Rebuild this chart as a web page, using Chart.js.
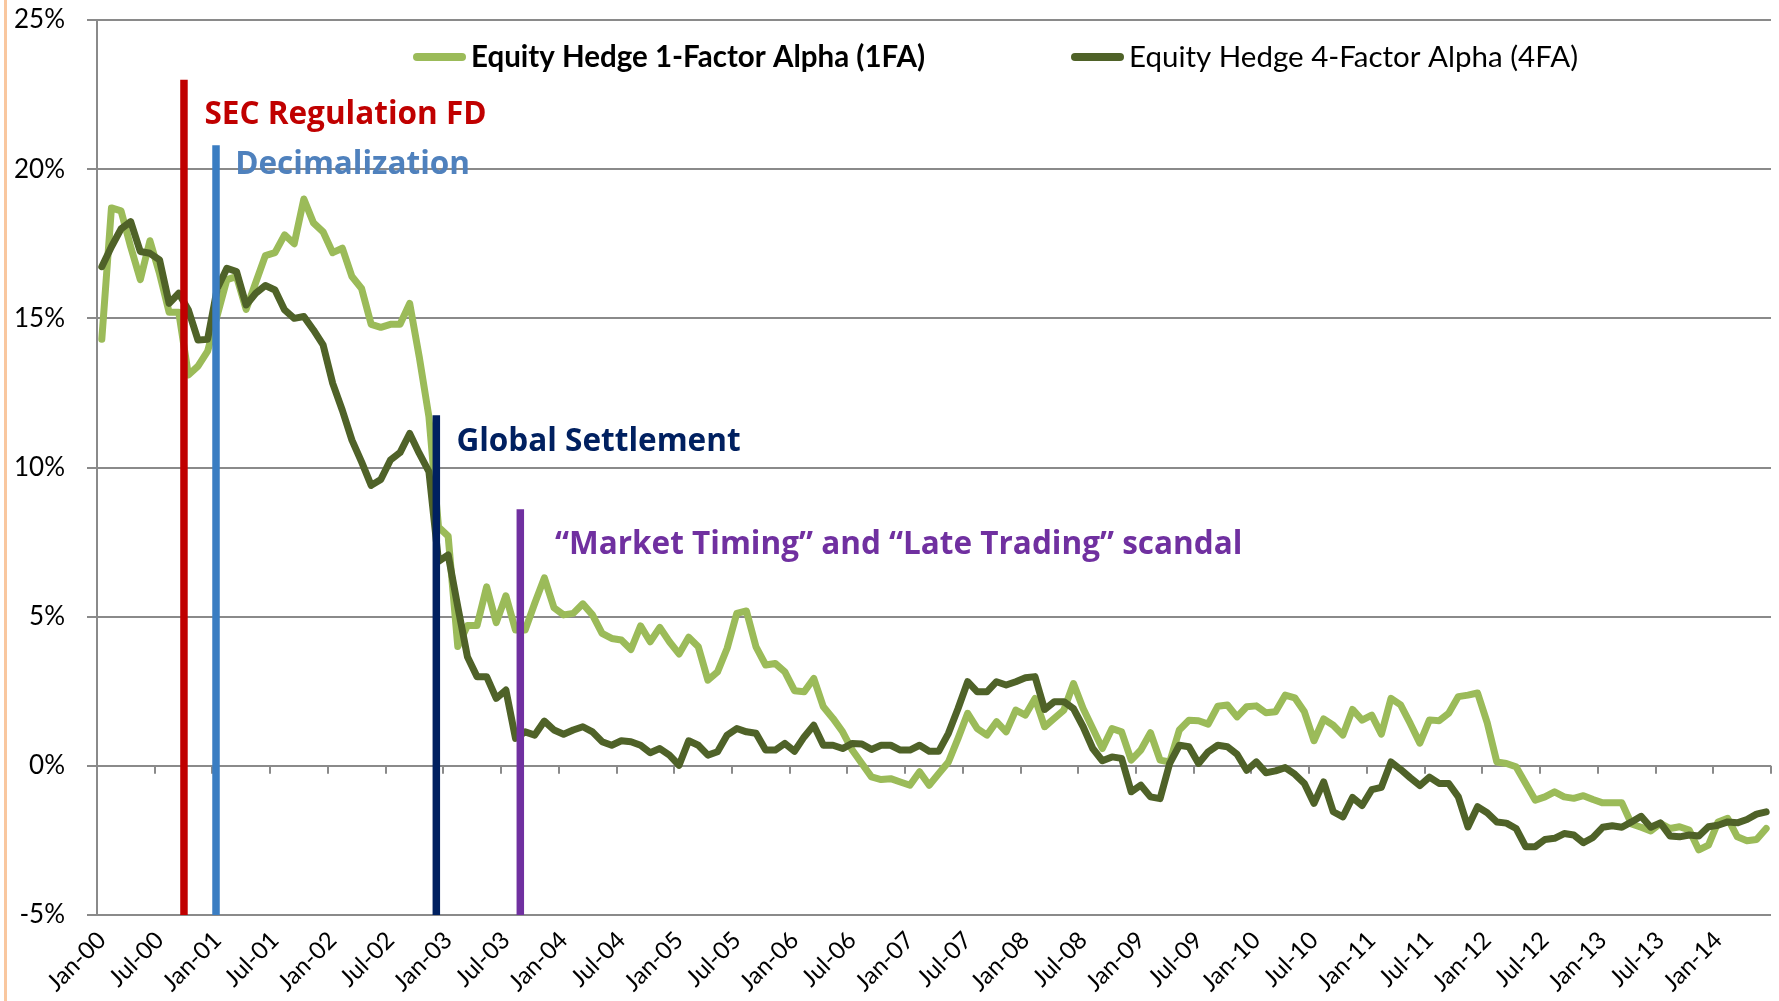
<!DOCTYPE html>
<html>
<head>
<meta charset="utf-8">
<script src="https://cdn.jsdelivr.net/npm/chart.js@4.4.1/dist/chart.umd.min.js"></script>
<style>
  html, body { margin: 0; padding: 0; background: #fff; }
  #wrap { position: relative; width: 1779px; height: 1001px; }
  #edge { position: absolute; left: 4px; top: 0; width: 3px; height: 1001px; background: #f9c79f; }
  canvas { position: absolute; left: 0; top: 0; }
</style>
</head>
<body>
<div id="wrap"><canvas id="chart" width="1779" height="1001"></canvas><div id="edge"></div></div>
<script>
// Monthly categories Jan-00 .. Jun-14
const monthNames = ['Jan','Feb','Mar','Apr','May','Jun','Jul','Aug','Sep','Oct','Nov','Dec'];
const months = [];
for (let yr = 0; yr <= 14; yr++) {
  for (let m = 0; m < 12; m++) {
    if (months.length < 174) months.push(monthNames[m] + '-' + String(yr).padStart(2, '0'));
  }
}

// Equity Hedge 1-Factor Alpha (%)
const alpha1FA = [
  14.3, 18.7, 18.6, 17.4, 16.3, 17.6, 16.5, 15.2, 15.2, 13.1, 13.4, 13.9,
  15.1, 16.3, 16.4, 15.3, 16.2, 17.1, 17.2, 17.8, 17.5, 19.0, 18.2, 17.9,
  17.2, 17.35, 16.4, 16.0, 14.8, 14.7, 14.8, 14.8, 15.5, 13.7, 11.7, 8.0,
  7.7, 4.0, 4.7, 4.7, 6.0, 4.8, 5.7, 4.55, 4.55, 5.45, 6.3, 5.3,
  5.06, 5.11, 5.43, 5.06, 4.44, 4.27, 4.22, 3.9, 4.69, 4.16, 4.64, 4.16,
  3.75, 4.31, 3.99, 2.87, 3.15, 3.94, 5.11, 5.19, 3.99, 3.38, 3.43, 3.15,
  2.52, 2.48, 2.93, 1.98, 1.59, 1.14, 0.53, 0.08, -0.37, -0.46, -0.43, -0.54,
  -0.65, -0.2, -0.65, -0.26, 0.13, 0.92, 1.76, 1.25, 1.03, 1.48, 1.14, 1.87,
  1.7, 2.26, 1.31, 1.59, 1.87, 2.76, 1.92, 1.25, 0.58, 1.25, 1.14, 0.19,
  0.53, 1.11, 0.19, 0.13, 1.2, 1.53, 1.51, 1.4, 2.0, 2.04, 1.64, 1.98,
  2.01, 1.78, 1.81, 2.37, 2.28, 1.81, 0.84, 1.57, 1.36, 1.03, 1.89, 1.53,
  1.7, 1.06, 2.26, 2.04, 1.42, 0.76, 1.54, 1.51, 1.76, 2.32, 2.37, 2.44,
  1.45, 0.13, 0.08, -0.03, -0.59, -1.15, -1.04, -0.87, -1.04, -1.09, -1.0, -1.13,
  -1.24, -1.24, -1.24, -1.95, -2.06, -2.18, -1.93, -2.1, -2.04, -2.15, -2.82, -2.66,
  -1.88, -1.76, -2.38, -2.51, -2.47, -2.1
];

// Equity Hedge 4-Factor Alpha (%)
const alpha4FA = [
  16.73, 17.4, 18.0, 18.24, 17.24, 17.18, 16.96, 15.5, 15.84, 15.28, 14.27, 14.3,
  16.0, 16.68, 16.57, 15.45, 15.84, 16.1, 15.95, 15.28, 15.0, 15.06, 14.61, 14.11,
  12.82, 11.92, 10.92, 10.19, 9.4, 9.6, 10.25, 10.5, 11.14, 10.47, 9.86, 6.85,
  7.07, 5.34, 3.66, 2.99, 2.99, 2.26, 2.54, 0.92, 1.14, 1.03, 1.5, 1.2,
  1.06, 1.2, 1.31, 1.14, 0.81, 0.69, 0.84, 0.81, 0.69, 0.44, 0.58, 0.36,
  0.02, 0.84, 0.69, 0.36, 0.47, 1.03, 1.25, 1.14, 1.09, 0.53, 0.53, 0.75,
  0.49, 0.97, 1.36, 0.69, 0.69, 0.58, 0.75, 0.73, 0.55, 0.69, 0.69, 0.53,
  0.53, 0.69, 0.49, 0.49, 1.09, 1.92, 2.82, 2.48, 2.48, 2.82, 2.71, 2.82,
  2.95, 2.99, 1.89, 2.15, 2.15, 1.92, 1.31, 0.58, 0.17, 0.3, 0.25, -0.87,
  -0.65, -1.04, -1.1, 0.08, 0.69, 0.64, 0.08, 0.47, 0.69, 0.64, 0.39, -0.15,
  0.13, -0.23, -0.17, -0.06, -0.28, -0.59, -1.26, -0.54, -1.54, -1.71, -1.06, -1.33,
  -0.8, -0.72, 0.13, -0.12, -0.4, -0.66, -0.38, -0.59, -0.59, -1.04, -2.05, -1.37,
  -1.57, -1.88, -1.92, -2.1, -2.71, -2.71, -2.47, -2.43, -2.27, -2.32, -2.58, -2.4,
  -2.06, -2.01, -2.06, -1.88, -1.69, -2.06, -1.91, -2.35, -2.38, -2.32, -2.35, -2.04,
  -1.99, -1.88, -1.91, -1.8, -1.62, -1.54
];

// Y ticks
const yTicks = [-5, 0, 5, 10, 15, 20, 25];

// Events (month index may be fractional, top in %)
const eventNames = ['SEC Regulation FD', 'Decimalization', 'Global Settlement', '\u201cMarket Timing\u201d and \u201cLate Trading\u201d scandal'];
const eventMonth = [8.54, 11.87, 34.77, 43.5];
const eventTop = [23, 20.8, 11.75, 8.6];

// styling
const eventLineColors = ['#C00000', '#3A7DC2', '#002060', '#7030A0'];
const eventTextColors = ['#C00000', '#4F81BD', '#002060', '#7030A0'];
// label anchor (left, middle) in axis units
const eventLabelX = [10.67, 13.86, 36.86, 47.11];
const eventLabelY = [21.8, 20.13, 10.86, 7.4];

const GRID = '#8a8a8a';
const C1 = '#9BBB59';
const C4 = '#4F6228';

// x tick marks at the 0% line, every 6 months on category boundaries
const xTickMarks = {
  id: 'xTickMarks',
  beforeDatasetsDraw(chart) {
    const { ctx, scales: { x, y } } = chart;
    const y0 = y.getPixelForValue(0);
    ctx.save();
    ctx.strokeStyle = GRID;
    ctx.lineWidth = 2;
    ctx.beginPath();
    for (let k = 6; k <= months.length; k += 6) {
      const px = Math.round(x.getPixelForValue(k - 0.5));
      ctx.moveTo(px, y0);
      ctx.lineTo(px, y0 + 8);
    }
    ctx.stroke();
    ctx.restore();
  }
};

// vertical event markers + labels
const eventLines = {
  id: 'eventLines',
  afterDatasetsDraw(chart) {
    const { ctx, scales: { x, y } } = chart;
    ctx.save();
    eventNames.forEach((name, k) => {
      const px = x.getPixelForValue(eventMonth[k]);
      ctx.strokeStyle = eventLineColors[k];
      ctx.lineWidth = 7.5;
      ctx.beginPath();
      ctx.moveTo(px, y.getPixelForValue(eventTop[k]));
      ctx.lineTo(px, y.getPixelForValue(-5));
      ctx.stroke();

      ctx.font = 'bold 31.5px "Open Sans"';
      ctx.fillStyle = eventTextColors[k];
      ctx.textAlign = 'left';
      ctx.textBaseline = 'middle';
      ctx.fillText(name, x.getPixelForValue(eventLabelX[k]), y.getPixelForValue(eventLabelY[k]));
    });
    ctx.restore();
  }
};

// legend inside the plot, first entry bold
const topLegend = {
  id: 'topLegend',
  afterDraw(chart) {
    const { ctx } = chart;
    const items = [
      { ds: chart.data.datasets[0], x: 413, font: 'bold 29.5px Lato' },
      { ds: chart.data.datasets[1], x: 1071, font: '29.5px Lato' }
    ];
    const yMid = 57;
    ctx.save();
    items.forEach(it => {
      ctx.strokeStyle = it.ds.borderColor;
      ctx.lineWidth = 8;
      ctx.lineCap = 'round';
      ctx.beginPath();
      ctx.moveTo(it.x + 4, yMid);
      ctx.lineTo(it.x + 49, yMid);
      ctx.stroke();
      ctx.font = it.font;
      ctx.fillStyle = '#000';
      ctx.textBaseline = 'middle';
      ctx.textAlign = 'left';
      ctx.fillText(it.ds.label, it.x + 58, yMid);
    });
    ctx.restore();
  }
};

new Chart(document.getElementById('chart').getContext('2d'), {
  type: 'line',
  data: {
    labels: months,
    datasets: [
      {
        label: 'Equity Hedge 1-Factor Alpha (1FA)',
        data: alpha1FA,
        borderColor: C1,
        borderWidth: 7,
        pointRadius: 0,
        tension: 0,
        borderJoinStyle: 'round',
        borderCapStyle: 'round',
        order: 2
      },
      {
        label: 'Equity Hedge 4-Factor Alpha (4FA)',
        data: alpha4FA,
        borderColor: C4,
        borderWidth: 7,
        pointRadius: 0,
        tension: 0,
        borderJoinStyle: 'round',
        borderCapStyle: 'round',
        order: 1
      }
    ]
  },
  options: {
    responsive: false,
    animation: false,
    devicePixelRatio: 1,
    layout: { padding: { top: 20, right: 8, left: 0, bottom: 0 } },
    plugins: { legend: { display: false }, tooltip: { enabled: false } },
    scales: {
      x: {
        type: 'category',
        offset: true,
        grid: { display: false },
        border: { display: false },
        afterFit: s => {
          s.height = 86;
          s.paddingLeft = 0;
          s.paddingRight = 0;
        },
        ticks: {
          autoSkip: false,
          minRotation: 45,
          maxRotation: 45,
          padding: 3,
          color: '#000',
          font: { family: 'Lato', size: 24 },
          callback: (v, i) => (i % 6 === 0 ? months[i] : '')
        }
      },
      y: {
        min: -5,
        max: 25,
        afterFit: s => {
          s.width = 97;
          s.paddingTop = 0;
          s.paddingBottom = 0;
        },
        afterBuildTicks: s => { s.ticks = yTicks.map(v => ({ value: v })); },
        grid: { color: GRID, lineWidth: 2, tickLength: 10, drawTicks: true },
        border: { display: true, color: GRID, width: 2 },
        ticks: {
          padding: 22,
          color: '#000',
          font: { family: 'Lato', size: 26 },
          callback: v => v + '%'
        }
      }
    }
  },
  plugins: [xTickMarks, eventLines, topLegend]
});
</script>
</body>
</html>
